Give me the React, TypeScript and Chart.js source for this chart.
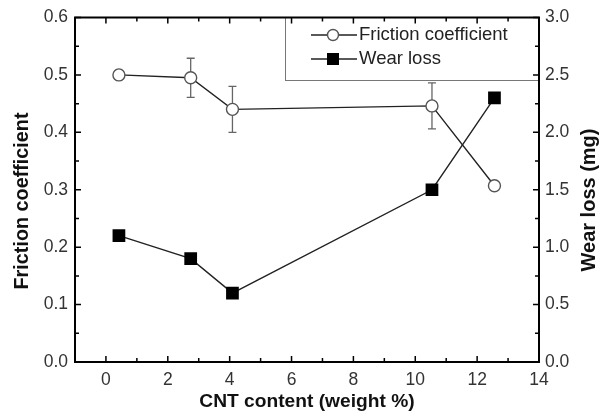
import React, { useEffect, useRef } from "react";
import { Chart, registerables } from "chart.js";

Chart.register(...registerables);

const cntContent = [0.42, 2.74, 4.09, 10.54, 12.56];
const frictionCoef = [0.5, 0.495, 0.44, 0.446, 0.307];
const frictionErr = [0.008, 0.034, 0.04, 0.04, 0.005];
const wearLoss = [1.1, 0.9, 0.6, 1.5, 2.3];
const xTicks = [0, 2, 4, 6, 8, 10, 12, 14];
const legendLabels = ["Friction coefficient", "Wear loss"];

const FONT = "'Liberation Sans', Arial, sans-serif";

const framePlugin = {
  id: "frame",
  beforeDatasetsDraw(chart: any) {
    const ctx = chart.ctx;
    const x = chart.scales.x;
    const y = chart.scales.y;
    ctx.save();
    ctx.strokeStyle = "#666";
    ctx.lineWidth = 1.3;
    cntContent.forEach((cx, i) => {
      const px = x.getPixelForValue(cx);
      const top = y.getPixelForValue(frictionCoef[i] + frictionErr[i]);
      const bot = y.getPixelForValue(frictionCoef[i] - frictionErr[i]);
      ctx.beginPath();
      ctx.moveTo(px, top);
      ctx.lineTo(px, bot);
      ctx.moveTo(px - 4, top);
      ctx.lineTo(px + 4, top);
      ctx.moveTo(px - 4, bot);
      ctx.lineTo(px + 4, bot);
      ctx.stroke();
    });
    ctx.restore();
  },
  afterDraw(chart: any) {
    const ctx = chart.ctx;
    const a = chart.chartArea;
    const x = chart.scales.x;
    const y = chart.scales.y;
    const y2 = chart.scales.y2;
    ctx.save();
    const lx = 285, ly = a.top, lw = a.right - 285, lh = 63;
    ctx.fillStyle = "#fff";
    ctx.fillRect(lx, ly, lw, lh);
    ctx.strokeStyle = "#777";
    ctx.lineWidth = 1;
    ctx.strokeRect(lx + 0.5, ly, lw, lh);
    const rows = [35, 59];
    ctx.lineWidth = 1.4;
    rows.forEach((ry, i) => {
      ctx.strokeStyle = "#222";
      ctx.beginPath();
      ctx.moveTo(311, ry);
      ctx.lineTo(357, ry);
      ctx.stroke();
      if (i === 0) {
        ctx.beginPath();
        ctx.arc(333, ry, 5.5, 0, Math.PI * 2);
        ctx.fillStyle = "#fff";
        ctx.fill();
        ctx.strokeStyle = "#555";
        ctx.stroke();
      } else {
        ctx.fillStyle = "#000";
        ctx.fillRect(327, ry - 6, 12, 12);
      }
      ctx.fillStyle = "#222";
      ctx.font = `18.5px ${FONT}`;
      ctx.textBaseline = "middle";
      ctx.textAlign = "left";
      ctx.fillText(legendLabels[i], 359, ry);
    });

    ctx.strokeStyle = "#000";
    ctx.lineWidth = 2;
    ctx.strokeRect(a.left, a.top, a.right - a.left, a.bottom - a.top);

    ctx.lineWidth = 1.5;
    ctx.beginPath();
    for (let v = -1; v <= 14; v++) {
      const px = x.getPixelForValue(v);
      const len = v % 2 === 0 ? 6 : 4;
      ctx.moveTo(px, a.bottom);
      ctx.lineTo(px, a.bottom - len);
      ctx.moveTo(px, a.top);
      ctx.lineTo(px, a.top + len);
    }
    for (let k = 0; k <= 12; k++) {
      const py = y.getPixelForValue(k * 0.05);
      const len = k % 2 === 0 ? 6 : 4;
      ctx.moveTo(a.left, py);
      ctx.lineTo(a.left + len, py);
    }
    for (let k = 0; k <= 12; k++) {
      const py = y2.getPixelForValue(k * 0.25);
      const len = k % 2 === 0 ? 6 : 4;
      ctx.moveTo(a.right, py);
      ctx.lineTo(a.right - len, py);
    }
    ctx.stroke();

    ctx.fillStyle = "#111";
    ctx.textAlign = "center";
    ctx.textBaseline = "middle";
    ctx.font = `bold 19.2px ${FONT}`;
    ctx.fillText("CNT content (weight %)", (a.left + a.right) / 2, 402);
    ctx.save();
    ctx.font = `bold 19.8px ${FONT}`;
    ctx.translate(23, 201);
    ctx.rotate(-Math.PI / 2);
    ctx.fillText("Friction coefficient", 0, 0);
    ctx.restore();
    ctx.save();
    ctx.font = `bold 20px ${FONT}`;
    ctx.translate(589, 200);
    ctx.rotate(-Math.PI / 2);
    ctx.fillText("Wear loss (mg)", 0, 0);
    ctx.restore();
    ctx.restore();
  },
};

export default function App() {
  const ref = useRef<HTMLCanvasElement>(null);
  useEffect(() => {
    if (!ref.current) return;
    const tickFont = { family: FONT, size: 17.5 };
    const noGrid = { display: false, drawTicks: false };
    const chart = new Chart(ref.current, {
      type: "line",
      data: {
        datasets: [
          {
            label: legendLabels[0],
            data: cntContent.map((c, i) => ({ x: c, y: frictionCoef[i] })),
            yAxisID: "y",
            borderColor: "#222",
            borderWidth: 1.4,
            pointStyle: "circle",
            pointRadius: 6,
            pointBorderWidth: 1.4,
            pointBorderColor: "#555",
            pointBackgroundColor: "#fff",
            tension: 0,
          },
          {
            label: legendLabels[1],
            data: cntContent.map((c, i) => ({ x: c, y: wearLoss[i] })),
            yAxisID: "y2",
            borderColor: "#222",
            borderWidth: 1.4,
            pointStyle: "rect",
            pointRadius: 9,
            pointBorderWidth: 0,
            pointBackgroundColor: "#000",
            pointBorderColor: "#000",
            tension: 0,
          },
        ],
      },
      options: {
        animation: false,
        responsive: false,
        layout: { padding: { top: 15, left: 0, right: 0, bottom: 0 } },
        plugins: { legend: { display: false }, tooltip: { enabled: false } },
        scales: {
          x: {
            type: "linear",
            min: -1,
            max: 14,
            grid: noGrid,
            border: { display: false },
            afterBuildTicks: (s: any) => {
              s.ticks = xTicks.map((v) => ({ value: v }));
            },
            afterFit: (s: any) => {
              s.height = 54;
            },
            ticks: { font: tickFont, color: "#333", padding: 8, maxRotation: 0, autoSkip: false },
          },
          y: {
            type: "linear",
            position: "left",
            min: 0,
            max: 0.6,
            grid: noGrid,
            border: { display: false },
            afterFit: (s: any) => {
              s.width = 75;
            },
            ticks: {
              stepSize: 0.1,
              font: tickFont,
              color: "#333",
              padding: 7,
              callback: (v: any) => Number(v).toFixed(1),
            },
          },
          y2: {
            type: "linear",
            position: "right",
            min: 0,
            max: 3,
            grid: noGrid,
            border: { display: false },
            afterFit: (s: any) => {
              s.width = 62;
            },
            ticks: {
              stepSize: 0.5,
              font: tickFont,
              color: "#333",
              padding: 6,
              callback: (v: any) => Number(v).toFixed(1),
            },
          },
        },
      },
      plugins: [framePlugin],
    } as any);
    return () => chart.destroy();
  }, []);
  return (
    <div style={{ position: "absolute", left: 0, top: 0, width: 601, height: 416, background: "#fff" }}>
      <canvas ref={ref} width={601} height={416} style={{ display: "block" }} />
    </div>
  );
}
